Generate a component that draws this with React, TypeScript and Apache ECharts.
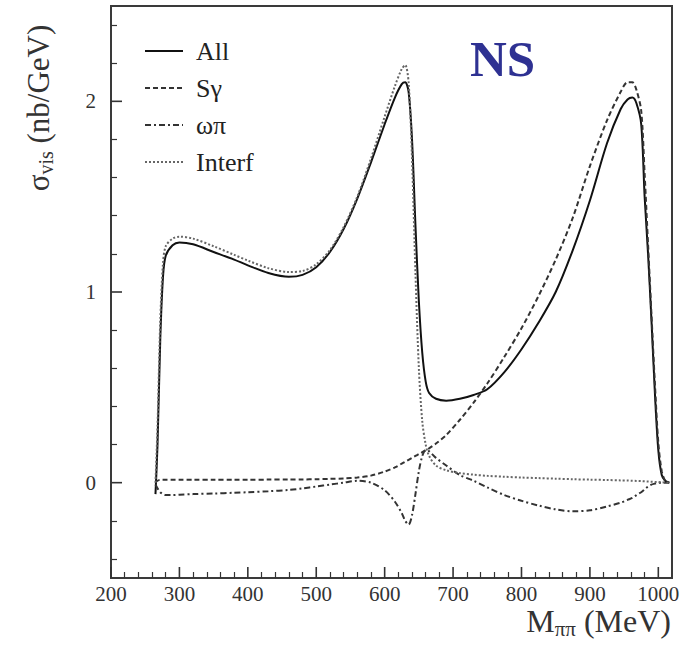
import React, { useEffect, useRef } from "react";
import * as echarts from "echarts";

const mass = [265, 268, 272, 276, 280, 290, 300, 320, 350, 380, 400, 430, 460, 480, 500, 520, 540, 560, 580, 600, 615, 625, 630, 635, 640, 645, 650, 655, 660, 665, 675, 690, 710, 730, 750, 775, 800, 825, 850, 875, 900, 925, 945, 955, 962, 968, 975, 980, 985, 990, 995, 1000, 1005, 1010, 1016];

const allValues = [-0.06, 0.2, 0.75, 1.08, 1.19, 1.245, 1.26, 1.25, 1.21, 1.17, 1.14, 1.1, 1.08, 1.09, 1.13, 1.21, 1.33, 1.49, 1.68, 1.88, 2.02, 2.09, 2.1, 2.05, 1.8, 1.35, 0.95, 0.68, 0.53, 0.47, 0.44, 0.43, 0.44, 0.46, 0.49, 0.58, 0.7, 0.84, 1.0, 1.22, 1.48, 1.78, 1.96, 2.01, 2.02, 1.99, 1.88, 1.5, 1.2, 0.85, 0.47, 0.17, 0.04, 0.01, 0.0];

const sGammaValues = [0.0, 0.01, 0.015, 0.015, 0.015, 0.015, 0.015, 0.015, 0.015, 0.015, 0.015, 0.016, 0.016, 0.017, 0.018, 0.02, 0.022, 0.027, 0.037, 0.058, 0.08, 0.1, 0.11, 0.12, 0.13, 0.14, 0.15, 0.16, 0.17, 0.18, 0.205, 0.25, 0.33, 0.42, 0.52, 0.66, 0.81, 0.98, 1.17, 1.39, 1.66, 1.9, 2.05, 2.1, 2.1, 2.06, 1.95, 1.62, 1.25, 0.88, 0.52, 0.21, 0.06, 0.01, 0.0];

const omegaPiValues = [-0.01, -0.03, -0.05, -0.06, -0.065, -0.065, -0.063, -0.06, -0.057, -0.053, -0.05, -0.045, -0.038, -0.03, -0.02, -0.01, 0.0, 0.01, 0.0, -0.04, -0.1, -0.16, -0.2, -0.22, -0.17, -0.06, 0.06, 0.14, 0.17, 0.165, 0.13, 0.09, 0.04, 0.01, -0.025, -0.065, -0.095, -0.12, -0.14, -0.15, -0.145, -0.125, -0.105, -0.09, -0.08, -0.065, -0.05, -0.035, -0.02, -0.01, -0.005, 0.0, 0.0, 0.0, 0.0];

const interfValues = [0.0, 0.3, 0.85, 1.15, 1.24, 1.28, 1.29, 1.28, 1.24, 1.195, 1.165, 1.125, 1.105, 1.11, 1.145, 1.22, 1.34, 1.5, 1.7, 1.92, 2.08, 2.17, 2.19, 2.1, 1.7, 1.1, 0.6, 0.32, 0.2, 0.14, 0.09, 0.065, 0.05, 0.042, 0.036, 0.031, 0.027, 0.024, 0.021, 0.018, 0.016, 0.014, 0.012, 0.011, 0.01, 0.009, 0.008, 0.007, 0.006, 0.005, 0.004, 0.003, 0.002, 0.001, 0.0];

const xMajorTicks = [200, 300, 400, 500, 600, 700, 800, 900, 1000];
const xMinorTicks = [220, 240, 260, 280, 320, 340, 360, 380, 420, 440, 460, 480, 520, 540, 560, 580, 620, 640, 660, 680, 720, 740, 760, 780, 820, 840, 860, 880, 920, 940, 960, 980];
const yMajorTicks = [0, 1, 2];
const yMinorTicks = [-0.4, -0.2, 0.2, 0.4, 0.6, 0.8, 1.2, 1.4, 1.6, 1.8, 2.2, 2.4];

const seriesNames = ["All", "S\u03b3", "\u03c9\u03c0", "Interf"];

const FONT = "Liberation Serif";
const X_MIN = 200;
const X_MAX = 1020;
const Y_MIN = -0.5;
const Y_MAX = 2.5;

function pairs(values: number[]) {
  return mass.map((m, i) => [m, values[i]]);
}

export default function App() {
  const ref = useRef<HTMLDivElement>(null);

  useEffect(() => {
    if (!ref.current) return;
    const chart = echarts.init(ref.current, undefined, { renderer: "svg" });
    const axisColor = "#333";
    const baseX = {
      type: "value" as const,
      min: X_MIN,
      max: X_MAX,
      position: "bottom" as const,
      axisLine: { show: false, onZero: false },
      splitLine: { show: false },
    };
    const baseY = {
      type: "value" as const,
      min: Y_MIN,
      max: Y_MAX,
      position: "left" as const,
      axisLine: { show: false, onZero: false },
      splitLine: { show: false },
    };
    const tickAxis = (base: any, values: number[], length: number, width: number) => ({
      ...base,
      axisTick: { show: true, inside: true, length, customValues: values, lineStyle: { color: axisColor, width } },
      axisLabel: { show: false },
    });
    const labelAxis = (base: any, values: number[], margin: number) => ({
      ...base,
      axisTick: { show: false },
      axisLabel: {
        show: true,
        customValues: values,
        formatter: (v: number) => String(v),
        fontFamily: FONT,
        fontSize: 21,
        color: "#333",
        margin,
      },
    });
    const lineSeries = (name: string, values: number[], type: any, color: string, width: number) => ({
      name,
      type: "line" as const,
      data: pairs(values),
      showSymbol: false,
      symbol: "none",
      smooth: 0.3,
      xAxisIndex: 0,
      yAxisIndex: 0,
      lineStyle: { type, color, width },
      itemStyle: { color },
      z: 3,
    });

    const textGraphics: any[] = [
      {
        type: "text",
        left: 470,
        top: 33,
        style: {
          text: "NS",
          fontFamily: FONT,
          fontWeight: "bold",
          fontSize: 51,
          fill: "#2e3192",
        },
      },
      {
        type: "text",
        x: 38,
        y: 108,
        rotation: Math.PI / 2,
        style: {
          text: "{a|\u03c3}{b|vis}{a| (nb/GeV)}",
          align: "center",
          verticalAlign: "middle",
          rich: {
            a: { fontFamily: FONT, fontSize: 31, fill: "#333", lineHeight: 36 },
            b: { fontFamily: FONT, fontSize: 20, fill: "#333", lineHeight: 36, verticalAlign: "bottom", padding: [12, 0, 0, 0] },
          },
        },
      },
      {
        type: "text",
        x: 671,
        y: 621,
        style: {
          text: "{a|M}{b|\u03c0\u03c0}{a| (MeV)}",
          align: "right",
          verticalAlign: "middle",
          rich: {
            a: { fontFamily: FONT, fontSize: 32, fill: "#333", lineHeight: 36 },
            b: { fontFamily: FONT, fontSize: 21, fill: "#333", lineHeight: 36, verticalAlign: "bottom", padding: [12, 0, 0, 0] },
          },
        },
      },
    ];

    chart.setOption({
      animation: false,
      backgroundColor: "#fff",
      textStyle: { fontFamily: FONT },
      grid: {
        left: 111,
        right: 13,
        top: 6,
        bottom: 69,
        show: true,
        borderColor: "#3a3a3a",
        borderWidth: 2,
        backgroundColor: "transparent",
      },
      legend: {
        show: true,
        orient: "vertical",
        left: 139,
        top: 33,
        itemWidth: 38,
        itemHeight: 14,
        itemGap: 11,
        data: seriesNames,
        itemStyle: { color: "rgba(0,0,0,0)", borderColor: "rgba(0,0,0,0)", borderWidth: 0 },
        textStyle: {
          fontFamily: FONT,
          fontSize: 26,
          color: "#222",
          lineHeight: 26,
          padding: [0, 0, 0, 8],
        },
      },
      xAxis: [
        labelAxis(baseX, xMajorTicks, 5),
        tickAxis(baseX, xMinorTicks, 6, 1.2),
      ],
      yAxis: [
        labelAxis(baseY, yMajorTicks, 15),
        tickAxis(baseY, yMinorTicks, 6, 1.2),
      ],
      series: [
        lineSeries(seriesNames[0], allValues, "solid", "#111", 2),
        lineSeries(seriesNames[1], sGammaValues, [5, 3], "#333", 2),
        lineSeries(seriesNames[2], omegaPiValues, [6, 3, 2, 3], "#333", 2),
        lineSeries(seriesNames[3], interfValues, [2, 2], "#666", 2),
      ],
      graphic: textGraphics,
    });

    // Major ticks placed through the chart's own axis scales.
    const finder = { xAxisIndex: 0, yAxisIndex: 0 };
    const majorLen = 11;
    const tickGraphics: any[] = [];
    xMajorTicks.forEach((v) => {
      const p = chart.convertToPixel(finder as any, [v, Y_MIN]) as number[];
      if (p && isFinite(p[0]) && isFinite(p[1])) {
        tickGraphics.push({
          type: "line",
          z: 100,
          silent: true,
          shape: { x1: p[0], y1: p[1], x2: p[0], y2: p[1] - majorLen },
          style: { stroke: axisColor, lineWidth: 1.6 },
        });
      }
    });
    yMajorTicks.forEach((v) => {
      const p = chart.convertToPixel(finder as any, [X_MIN, v]) as number[];
      if (p && isFinite(p[0]) && isFinite(p[1])) {
        tickGraphics.push({
          type: "line",
          z: 100,
          silent: true,
          shape: { x1: p[0], y1: p[1], x2: p[0] + majorLen, y2: p[1] },
          style: { stroke: axisColor, lineWidth: 1.6 },
        });
      }
    });
    chart.setOption({ graphic: [...textGraphics, ...tickGraphics] });

    return () => chart.dispose();
  }, []);

  return (
    <div
      ref={ref}
      style={{ position: "fixed", left: 0, top: 0, width: 685, height: 647, background: "#fff" }}
    />
  );
}
